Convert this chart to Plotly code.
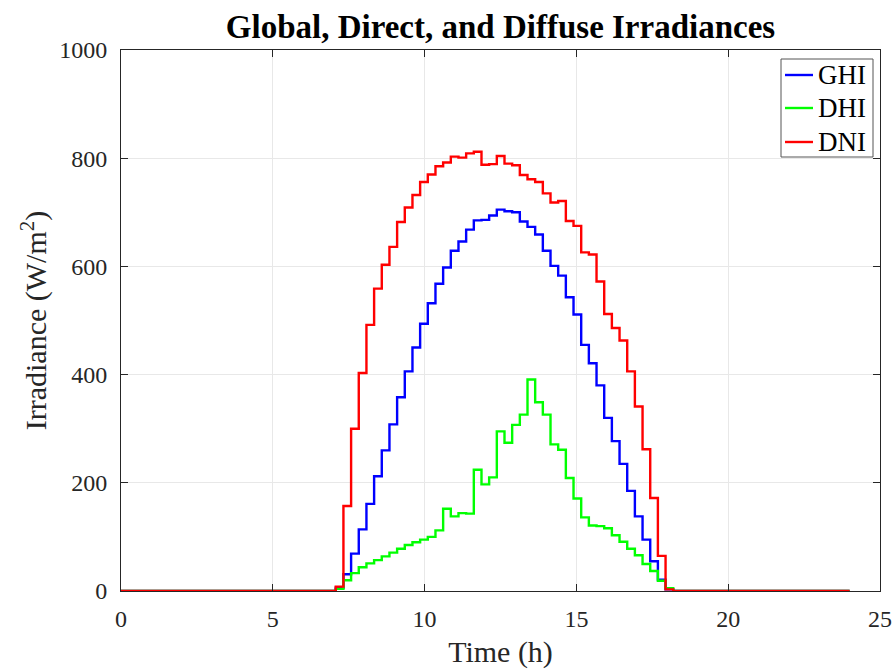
import numpy as np
import plotly.graph_objects as go

# Time axis: 96 samples over the day (h)
time_h = np.linspace(0, 24, 96)

zeros_morning = [0] * 28   # k = 0..27
zeros_evening = [0] * 24   # k = 72..95

ghi_day = [6, 31, 69, 114, 161, 212, 260, 308, 358, 406, 450, 494, 532, 568, 598,
           629, 646, 668, 685, 686, 694, 705, 702, 700, 683, 673, 659, 629, 601,
           583, 543, 511, 455, 421, 380, 320, 277, 235, 185, 138, 95, 55, 21, 3]
dhi_day = [4, 20, 33, 44, 51, 57, 64, 71, 78, 85, 90, 95, 100, 112, 152,
           138, 144, 143, 224, 197, 210, 295, 274, 307, 326, 391, 349, 326, 271,
           261, 209, 171, 136, 121, 120, 116, 103, 91, 78, 66, 50, 37, 19, 5]
dni_day = [8, 157, 300, 403, 492, 559, 603, 636, 682, 709, 732, 756, 770, 785, 792,
           803, 801, 809, 812, 788, 789, 804, 790, 787, 769, 761, 756, 735, 718,
           721, 684, 675, 626, 622, 572, 512, 486, 463, 406, 341, 262, 172, 65, 3]

ghi = zeros_morning + ghi_day + zeros_evening
dhi = zeros_morning + dhi_day + zeros_evening
dni = zeros_morning + dni_day + zeros_evening

series_names = ["GHI", "DHI", "DNI"]
series_values = [ghi, dhi, dni]
series_colors = ["#0000ff", "#00ff00", "#ff0000"]

x_ticks = [0, 5, 10, 15, 20, 25]
y_ticks = [0, 200, 400, 600, 800, 1000]

FONT = "Liberation Serif"
AX = "#262626"

W, H = 896, 669
ML, MR, MT, MB = 121, 16, 50, 78
PW, PH = W - ML - MR, H - MT - MB


def px_x(p):
    return (p - ML) / PW


def px_y(p):
    return (H - MB - p) / PH


fig = go.Figure()
for name, vals, col in zip(series_names, series_values, series_colors):
    fig.add_trace(go.Scatter(
        x=time_h, y=vals, name=name, mode="lines",
        line=dict(color=col, width=2.4, shape="hv"),
        showlegend=False,
    ))

axis_common = dict(
    showline=True, linecolor=AX, linewidth=1, mirror="ticks",
    ticks="inside", ticklen=7, tickcolor=AX, tickwidth=1,
    showgrid=True, gridcolor="#e8e8e8", gridwidth=1,
    zeroline=False, tickfont=dict(family=FONT, size=24, color=AX),
    automargin=False,
)

fig.update_xaxes(
    range=[0, 25], tickvals=x_ticks, ticklabelstandoff=6,
    title=dict(text="Time (h)", font=dict(family=FONT, size=30, color=AX), standoff=10),
    **axis_common,
)
fig.update_yaxes(
    range=[0, 1000], tickvals=y_ticks, ticklabelstandoff=8,
    title=dict(text="Irradiance (W/m<sup>2</sup>)", font=dict(family=FONT, size=30, color=AX), standoff=3),
    **axis_common,
)

# Legend box drawn in the MATLAB style
shapes = [dict(
    type="rect", xref="paper", yref="paper",
    x0=px_x(781), x1=px_x(873), y0=px_y(157), y1=px_y(59),
    line=dict(color="#555555", width=1), fillcolor="white", layer="above",
)]
annotations = []
legend_rows = [75, 108, 142]
for name, col, row in zip(series_names, series_colors, legend_rows):
    shapes.append(dict(
        type="line", xref="paper", yref="paper",
        x0=px_x(785), x1=px_x(813), y0=px_y(row), y1=px_y(row),
        line=dict(color=col, width=2.4), layer="above",
    ))
    annotations.append(dict(
        text=name, xref="paper", yref="paper",
        x=px_x(816), y=px_y(row), xanchor="left", yanchor="middle",
        showarrow=False, font=dict(family=FONT, size=27, color="black"),
    ))

fig.update_layout(
    width=W, height=H,
    margin=dict(l=ML, r=MR, t=MT, b=MB),
    paper_bgcolor="white", plot_bgcolor="white",
    title=dict(
        text="<b>Global, Direct, and Diffuse Irradiances</b>",
        font=dict(family=FONT, size=33, color="black"),
        x=0.5, xref="paper", xanchor="center",
        y=1 - 26 / 669, yref="container", yanchor="middle",
    ),
    shapes=shapes,
    annotations=annotations,
    showlegend=False,
)

fig.write_html("out.html")
